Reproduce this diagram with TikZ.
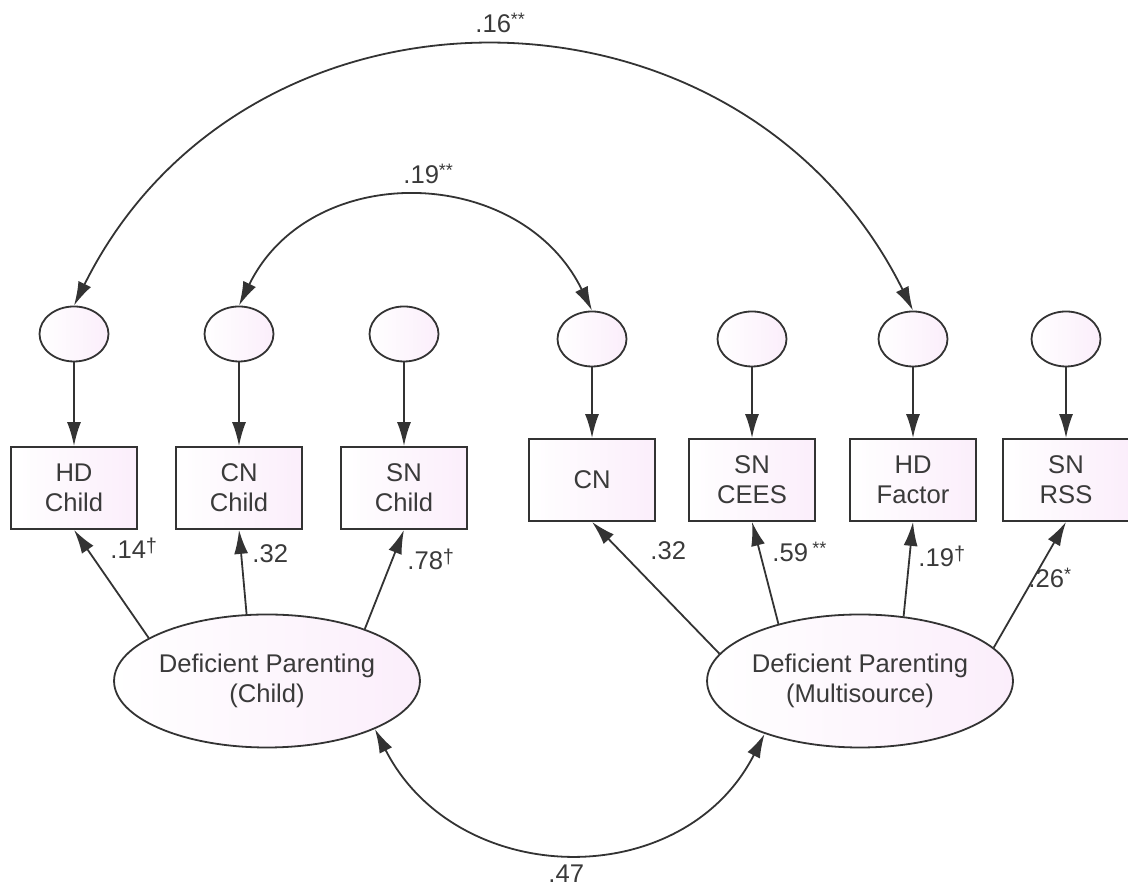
\documentclass[tikz,border=0pt]{standalone}
\usepackage{fontspec}
\setmainfont{Liberation Sans}
\usetikzlibrary{arrows.meta,shapes.geometric}
\definecolor{linegray}{HTML}{333333}
\definecolor{textgray}{HTML}{3A3A3A}
\definecolor{shadepink}{HTML}{FBEEFB}
\newcommand{\sigmark}[1]{{\fontsize{9}{9}\selectfont\raisebox{3.5pt}{#1}}}
\newcommand{\daggermark}{{\fontsize{10}{10}\selectfont\raisebox{3pt}{\textdagger}}}

\begin{document}
\begin{tikzpicture}
[x=0.5pt,y=0.5pt,
  font=\fontsize{12.8}{15}\selectfont,
  errdecorate/.style={shape=ellipse,draw=linegray,line width=0.9pt,
    left color=white,right color=shadepink,inner sep=0pt,
    minimum width=34.5pt,minimum height=27.5pt},
  boxdecorate/.style={shape=rectangle,draw=linegray,line width=0.9pt,
    left color=white,right color=shadepink,inner sep=0pt,align=center,
    text=textgray,minimum width=63pt,minimum height=41pt},
  latentdecorate/.style={shape=ellipse,draw=linegray,line width=0.9pt,
    left color=white,right color=shadepink,inner sep=0pt,align=center,
    text=textgray,minimum width=136pt,minimum height=66.5pt},
  linedecorate/.style={-{Latex[length=12pt,width=7pt]},line width=0.9pt,
    draw=linegray},
  covdecorate/.style={{Latex[length=12pt,width=7pt]}-{Latex[length=12pt,width=7pt]},
    line width=0.9pt,draw=linegray,looseness=1.18},
  numdecorate/.style={anchor=base west,inner sep=0pt,text=textgray}]
\useasboundingbox (0,0) rectangle (1128,886);
%% error terms and observed variables
\foreach \nodename/\x/\y/\ey/\boxtext in {
  hdc/74/398/552/{HD\\Child}, cnc/239/398/552/{CN\\Child},
  snc/404/398/552/{SN\\Child}, cnm/592/406/547/{CN},
  snm/752/406/547/{SN\\CEES}, hdm/913/406/547/{HD\\Factor},
  snr/1066/406/547/{SN\\RSS}}
{
  \node (e\nodename) at (\x,\ey) [errdecorate] {};
  \node (\nodename) at (\x,\y) [boxdecorate] {\boxtext};
  \draw[linedecorate] (e\nodename) -- (\nodename);
}
%% latent variables
\node (dpc) at (267,205) [latentdecorate] {Deficient Parenting\\(Child)};
\node (dpm) at (860,205) [latentdecorate] {Deficient Parenting\\(Multisource)};
%% loadings
\foreach \dir/\endnode in {160.8/hdc, 107.6/cnc, 28.5/snc}
  \draw[linedecorate] (dpc.\dir) -- (\endnode.south);
\foreach \dir/\endnode in {169.3/cnm, 145/snm, 56.7/hdm, 14.8/snr}
  \draw[linedecorate] (dpm.\dir) -- (\endnode.south);
%% covariances
\draw[covdecorate] (ehdc.north) to[out=63.6,in=116.4] (ehdm.north);
\draw[covdecorate] (ecnc.north) to[out=64,in=116] (ecnm.north);
\draw[covdecorate] (dpc.-24.5) to[out=-63,in=243] (dpm.209.5);
%% estimates
\node (c16) [numdecorate] at (475,853) {.16\sigmark{**}};
\node (c19) [numdecorate] at (403,702) {.19\sigmark{**}};
\node (c47) [numdecorate] at (548,3) {.47};
\node (w14) [numdecorate] at (110,327) {.14\daggermark};
\node (w32c) [numdecorate] at (252,323) {.32};
\node (w78) [numdecorate] at (407,316) {.78\daggermark};
\node (w32m) [numdecorate] at (650,326) {.32};
\node (w59) [numdecorate] at (772,324) {.59\,\sigmark{**}};
\node (w19) [numdecorate] at (918,319) {.19\daggermark};
\node (w26) [numdecorate] at (1028,298) {.26\sigmark{*}};
\end{tikzpicture}
\end{document}
